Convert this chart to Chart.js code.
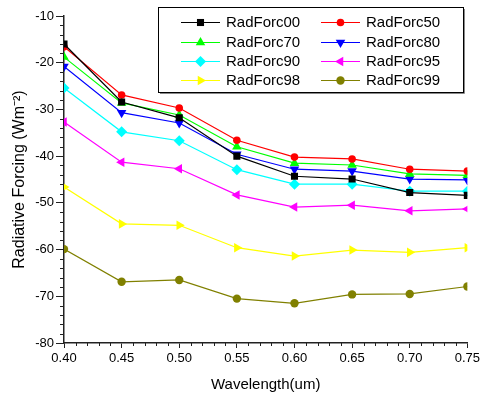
<!DOCTYPE html>
<html>
<head>
<meta charset="utf-8">
<title>Radiative Forcing vs Wavelength</title>
<script src="https://cdn.jsdelivr.net/npm/chart.js@4.4.1/dist/chart.umd.min.js"></script>
<style>
  html, body { margin: 0; padding: 0; background: #fff; }
  #box { width: 483px; height: 394px; }
</style>
</head>
<body>
<div id="box"><canvas id="grafico"></canvas></div>
<script>
// Comprimentos de onda (um) e forçamento radiativo (W m-2) por série
const wavelengths = [0.40, 0.45, 0.50, 0.55, 0.60, 0.65, 0.70, 0.75];
const radForc00 = [-16.0, -28.4, -31.8, -40.0, -44.3, -44.9, -47.8, -48.4];
const radForc50 = [-16.6, -26.9, -29.7, -36.6, -40.2, -40.6, -42.8, -43.2];
const radForc70 = [-18.8, -28.6, -31.2, -38.0, -41.5, -41.9, -43.8, -44.1];
const radForc80 = [-20.8, -30.7, -32.9, -39.6, -42.8, -43.2, -44.9, -45.1];
const radForc90 = [-25.4, -34.8, -36.7, -42.9, -46.0, -46.0, -47.5, -47.5];
const radForc95 = [-32.7, -41.3, -42.7, -48.3, -50.9, -50.5, -51.7, -51.3];
const radForc98 = [-46.6, -54.5, -54.8, -59.6, -61.4, -60.1, -60.6, -59.6];
const radForc99 = [-59.9, -66.9, -66.5, -70.5, -71.5, -69.6, -69.5, -67.9];

const seriesNames = ['RadForc00', 'RadForc50', 'RadForc70', 'RadForc80',
                     'RadForc90', 'RadForc95', 'RadForc98', 'RadForc99'];
const xTicks = [0.40, 0.45, 0.50, 0.55, 0.60, 0.65, 0.70, 0.75];
const yTicks = [-80, -70, -60, -50, -40, -30, -20, -10];

// estilo de cada série: cor, marcador e rotação do marcador
const estilos = [
  { cor: '#000000', ponto: 'rect', rot: 0, raio: 5 },
  { cor: '#ff0000', ponto: 'circle', rot: 0, raio: 3.8 },
  { cor: '#00ff00', ponto: 'triangle', rot: 0, raio: 5.5 },
  { cor: '#0000ff', ponto: 'triangle', rot: 180, raio: 5.5 },
  { cor: '#00ffff', ponto: 'rectRot', rot: 0, raio: 5.5 },
  { cor: '#ff00ff', ponto: 'triangle', rot: 270, raio: 5.5 },
  { cor: '#ffff00', ponto: 'triangle', rot: 90, raio: 5.5 },
  { cor: '#808000', ponto: 'circle', rot: 0, raio: 4.2 }
];
const valores = [radForc00, radForc50, radForc70, radForc80,
                 radForc90, radForc95, radForc98, radForc99];

const FONTE = '"Liberation Sans", Arial, sans-serif';

const datasets = valores.map((serie, i) => ({
  label: seriesNames[i],
  data: serie.map((v, j) => ({ x: wavelengths[j], y: v })),
  borderColor: estilos[i].cor,
  backgroundColor: estilos[i].cor,
  borderWidth: 1.2,
  pointStyle: estilos[i].ponto,
  rotation: estilos[i].rot,
  pointRadius: estilos[i].raio,
  pointBorderWidth: 0,
  tension: 0
}));

// ticks menores nos eixos (x a cada 0.01, y a cada 2)
const ticksMenores = {
  id: 'ticksMenores',
  afterDraw(chart) {
    const ctx = chart.ctx;
    const sx = chart.scales.x, sy = chart.scales.y;
    const area = chart.chartArea;
    ctx.save();
    ctx.strokeStyle = '#222';
    ctx.lineWidth = 1;
    for (let k = 0; k <= 35; k++) {
      if (k % 5 === 0) continue;
      const px = Math.round(sx.getPixelForValue(0.40 + k * 0.01)) + 0.5;
      ctx.beginPath();
      ctx.moveTo(px, area.bottom);
      ctx.lineTo(px, area.bottom + 3);
      ctx.stroke();
    }
    for (let v = -80; v <= -10; v += 2) {
      if (v % 10 === 0) continue;
      const py = Math.round(sy.getPixelForValue(v)) + 0.5;
      ctx.beginPath();
      ctx.moveTo(area.left - 4, py);
      ctx.lineTo(area.left, py);
      ctx.stroke();
    }
    ctx.restore();
  }
};

// legenda em caixa dentro da área do gráfico, duas colunas
const legendaCaixa = {
  id: 'legendaCaixa',
  afterDraw(chart) {
    const ctx = chart.ctx;
    const x0 = 158, y0 = 7, x1 = 463, y1 = 92;
    ctx.save();
    ctx.fillStyle = '#fff';
    ctx.fillRect(x0, y0, x1 - x0, y1 - y0);
    ctx.strokeStyle = '#000';
    ctx.lineWidth = 1;
    ctx.strokeRect(x0 + 0.5, y0 + 0.5, x1 - x0, y1 - y0);
    // sombra leve à direita e embaixo
    ctx.strokeStyle = '#888';
    ctx.beginPath();
    ctx.moveTo(x1 + 1.5, y0 + 2);
    ctx.lineTo(x1 + 1.5, y1 + 1.5);
    ctx.lineTo(x0 + 2, y1 + 1.5);
    ctx.stroke();
    const colunas = [181, 321];
    const linhas = [22, 42, 61, 80];
    ctx.font = '15px ' + FONTE;
    ctx.textBaseline = 'middle';
    chart.data.datasets.forEach((ds, i) => {
      const cx = colunas[i % 2];
      const cy = linhas[Math.floor(i / 2)];
      ctx.strokeStyle = ds.borderColor;
      ctx.lineWidth = 1.2;
      ctx.beginPath();
      ctx.moveTo(cx, cy + 0.5);
      ctx.lineTo(cx + 39, cy + 0.5);
      ctx.stroke();
      ctx.fillStyle = ds.backgroundColor;
      Chart.helpers.drawPoint(ctx, {
        pointStyle: ds.pointStyle,
        rotation: ds.rotation,
        radius: ds.pointRadius,
        borderWidth: 0
      }, cx + 19.5, cy + 0.5);
      ctx.fillStyle = '#000';
      ctx.textAlign = 'left';
      ctx.fillText(ds.label, cx + 45, cy + 1);
    });
    ctx.restore();
  }
};

const ctx = document.getElementById('grafico').getContext('2d');
new Chart(ctx, {
  type: 'line',
  data: { datasets },
  options: {
    responsive: true,
    maintainAspectRatio: false,
    animation: false,
    layout: { padding: { top: 16, right: 12, left: 0, bottom: 0 } },
    plugins: {
      legend: { display: false },
      tooltip: { enabled: false }
    },
    scales: {
      x: {
        type: 'linear',
        min: 0.40,
        max: 0.75,
        afterBuildTicks: s => { s.ticks = xTicks.map(v => ({ value: v })); },
        afterFit: s => { s.height = 51; },
        border: { display: true, color: '#222', width: 1.5 },
        grid: { display: true, drawOnChartArea: false, tickLength: 5, color: '#222', lineWidth: 1 },
        ticks: {
          color: '#000',
          font: { family: FONTE, size: 13 },
          padding: 3,
          maxRotation: 0,
          callback: v => Number(v).toFixed(2)
        },
        title: {
          display: true,
          text: 'Wavelength(um)',
          color: '#000',
          font: { family: FONTE, size: 15 },
          padding: { top: 4, bottom: 0 }
        }
      },
      y: {
        min: -80,
        max: -10,
        afterBuildTicks: s => { s.ticks = yTicks.map(v => ({ value: v })); },
        afterFit: s => { s.width = 64; },
        border: { display: true, color: '#222', width: 1.5 },
        grid: { display: true, drawOnChartArea: false, tickLength: 8, color: '#222', lineWidth: 1 },
        ticks: {
          color: '#000',
          font: { family: FONTE, size: 13 },
          padding: 2
        },
        title: {
          display: true,
          text: 'Radiative Forcing (Wm\u207B\u00B2)',
          color: '#000',
          font: { family: FONTE, size: 16 },
          padding: { top: 10, bottom: 0 }
        }
      }
    }
  },
  plugins: [ticksMenores, legendaCaixa]
});
</script>
</body>
</html>
